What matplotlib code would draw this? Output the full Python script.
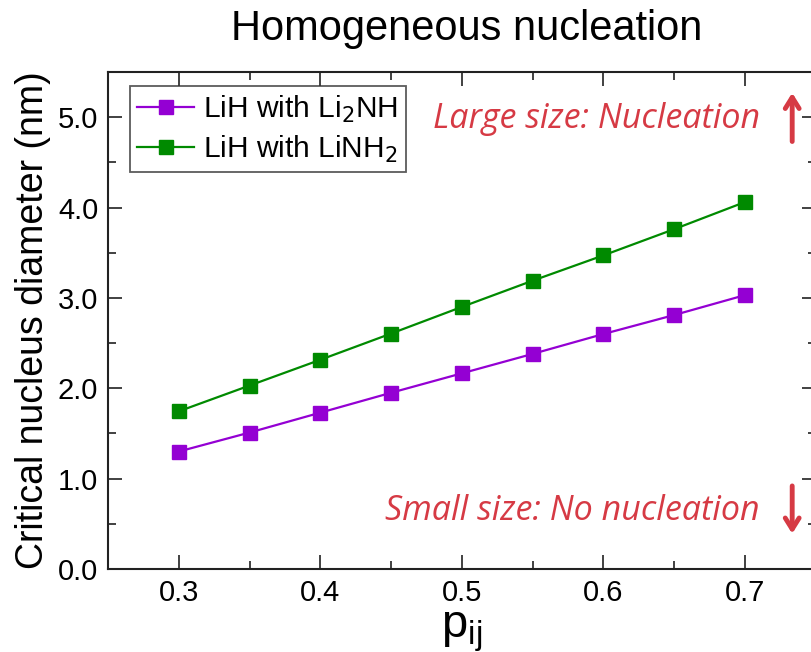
import matplotlib.pyplot as plt
from matplotlib.ticker import MultipleLocator

plt.rcParams['font.family'] = ['Liberation Sans', 'DejaVu Sans']

p_ij = [0.3, 0.35, 0.4, 0.45, 0.5, 0.55, 0.6, 0.65, 0.7]
d_li2nh = [1.30, 1.51, 1.73, 1.95, 2.165, 2.38, 2.60, 2.81, 3.03]
d_linh2 = [1.745, 2.03, 2.315, 2.605, 2.90, 3.19, 3.47, 3.76, 4.06]

purple = '#9400d3'
green = '#008a00'
red = '#d63a44'

fig = plt.figure(figsize=(8.11, 6.52), dpi=100)
ax = fig.add_axes([0.1332, 0.1273, 0.8724, 0.7623])

ax.plot(p_ij, d_li2nh, '-s', color=purple, lw=1.6, ms=9.5, label=r'LiH with Li$_2$NH')
ax.plot(p_ij, d_linh2, '-s', color=green, lw=1.6, ms=9.5, label=r'LiH with LiNH$_2$')

ax.set_xlim(0.25, 0.75)
ax.set_ylim(0, 5.5)
ax.xaxis.set_major_locator(MultipleLocator(0.1))
ax.xaxis.set_minor_locator(MultipleLocator(0.05))
ax.yaxis.set_major_locator(MultipleLocator(1.0))
ax.yaxis.set_minor_locator(MultipleLocator(0.5))
ax.xaxis.set_major_formatter(lambda v, pos: f'{v:.1f}')
ax.yaxis.set_major_formatter(lambda v, pos: f'{v:.1f}')
ax.tick_params(which='both', direction='in', top=True, right=True,
               labelsize=21, width=1.3, color='#333333')
ax.tick_params(which='major', length=10, pad=7)
ax.tick_params(which='minor', length=6)
ax.set_xticks([0.3, 0.4, 0.5, 0.6, 0.7])
for s in ax.spines.values():
    s.set_linewidth(1.5)
    s.set_color('#222222')

ax.set_ylabel('Critical nucleus diameter (nm)', fontsize=27, labelpad=5)
ax.set_xlabel(r'p$_{\mathregular{ij}}$', fontsize=34, labelpad=2)
fig.text(0.576, 0.955, 'Homogeneous nucleation', ha='center', va='center', fontsize=30)

leg = ax.legend(loc='upper left', bbox_to_anchor=(0.031, 0.971), fontsize=21.5,
                frameon=True, fancybox=False, edgecolor='#333333',
                handlelength=1.9, handletextpad=0.3, borderpad=0.25,
                labelspacing=0.3, borderaxespad=0)
leg.get_frame().set_linewidth(1.3)

ax.text(0.7105, 4.98, 'Large size: Nucleation', ha='right', va='center',
        fontsize=24.5, color=red, style='italic', family='Open Sans')
ax.text(0.7105, 0.64, 'Small size: No nucleation', ha='right', va='center',
        fontsize=24.5, color=red, style='italic', family='Open Sans')
arrow = dict(arrowstyle='->,head_length=0.8,head_width=0.5', color=red, lw=3.5)
ax.annotate('', xy=(0.7335, 5.3), xytext=(0.7335, 4.7), arrowprops=arrow)
ax.annotate('', xy=(0.7335, 0.36), xytext=(0.7335, 0.95), arrowprops=arrow)

fig.savefig('out.png', dpi=100)
